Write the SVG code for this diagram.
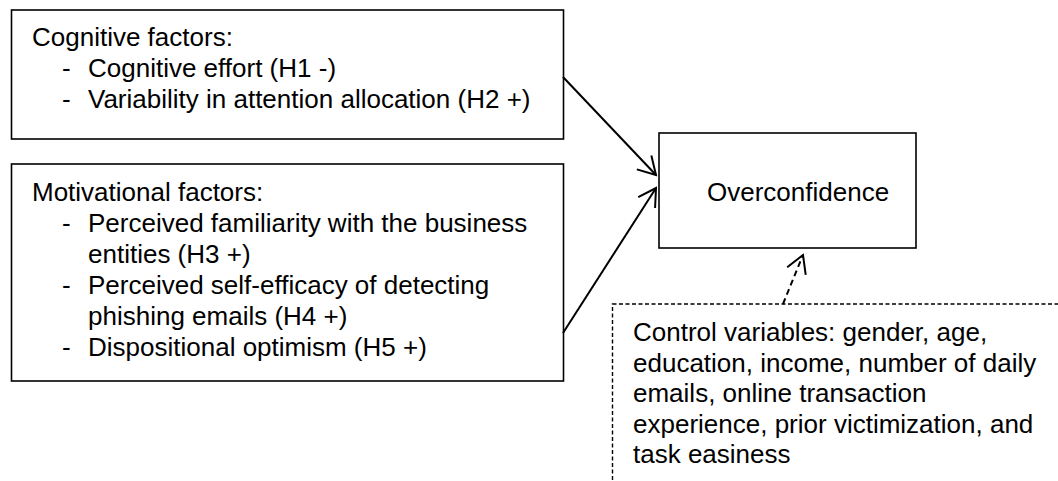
<svg xmlns="http://www.w3.org/2000/svg" width="1058" height="481" viewBox="0 0 1058 481">
<style>
text{font-family:"Liberation Sans",Arial,sans-serif;font-size:26px;fill:#000}
.box{fill:#fff;stroke:#000;stroke-width:1.6}
.dbox{fill:none;stroke:#000;stroke-width:1.4;stroke-dasharray:4 2.5}
.arrow{stroke:#000;stroke-width:2;fill:none;marker-end:url(#ah)}
.darrow{stroke:#000;stroke-width:2;fill:none;stroke-dasharray:6 4;marker-end:url(#ah)}
</style>
<defs>
<marker id="ah" viewBox="-20 -12 22 24" refX="0" refY="0" markerWidth="22" markerHeight="24" markerUnits="userSpaceOnUse" orient="auto">
<path d="M-17.3,-10 L0,0 L-17.3,10" fill="none" stroke="#000" stroke-width="2" stroke-dasharray="none"/>
</marker>
</defs>
<rect width="1058" height="481" fill="#fff"/>
<g id="cognitive">
<rect class="box" x="11.5" y="10" width="552" height="129"/>
<text x="32" y="46">Cognitive factors:</text>
<text x="62" y="77">-</text><text x="88" y="77">Cognitive effort (H1 -)</text>
<text x="62" y="108">-</text><text x="88" y="108">Variability in attention allocation (H2 +)</text>
</g>
<g id="motivational">
<rect class="box" x="11.5" y="164" width="552" height="217"/>
<text x="32" y="201">Motivational factors:</text>
<text x="62" y="232">-</text><text x="88" y="232">Perceived familiarity with the business</text>
<text x="88" y="263">entities (H3 +)</text>
<text x="62" y="294">-</text><text x="88" y="294">Perceived self-efficacy of detecting</text>
<text x="88" y="325">phishing emails (H4 +)</text>
<text x="62" y="356">-</text><text x="88" y="356">Dispositional optimism (H5 +)</text>
</g>
<g id="overconfidence">
<rect class="box" x="659" y="133" width="257" height="115"/>
<text x="707" y="201">Overconfidence</text>
</g>
<g id="controls">
<rect class="dbox" x="612.5" y="304" width="460" height="200"/>
<text x="633" y="341">Control variables: gender, age,</text>
<text x="633" y="371.5">education, income, number of daily</text>
<text x="633" y="402">emails, online transaction</text>
<text x="633" y="432.5">experience, prior victimization, and</text>
<text x="633" y="463">task easiness</text>
</g>
<g id="connectors">
<line class="arrow" x1="563" y1="77" x2="656" y2="175"/>
<line class="arrow" x1="563" y1="333" x2="656" y2="188"/>
<line class="darrow" x1="783" y1="304" x2="803" y2="255"/>
</g>
</svg>
